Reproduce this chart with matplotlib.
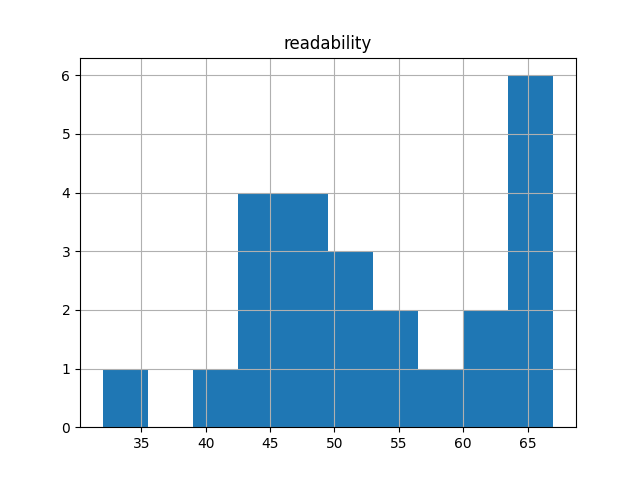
import matplotlib
matplotlib.use("Agg")
import matplotlib.pyplot as plt
import pandas as pd

# readability scores (estimated from the histogram)
readability = [32, 41, 43, 44, 45, 45.5, 46, 47, 48, 49, 50, 51, 52,
               54, 56, 58, 61, 63, 64, 65, 65, 66, 66, 67]

df = pd.DataFrame({"readability": readability})

fig, ax = plt.subplots(figsize=(6.4, 4.8), dpi=100)
df.hist(column="readability", bins=10, ax=ax)

fig.savefig("out.png")
